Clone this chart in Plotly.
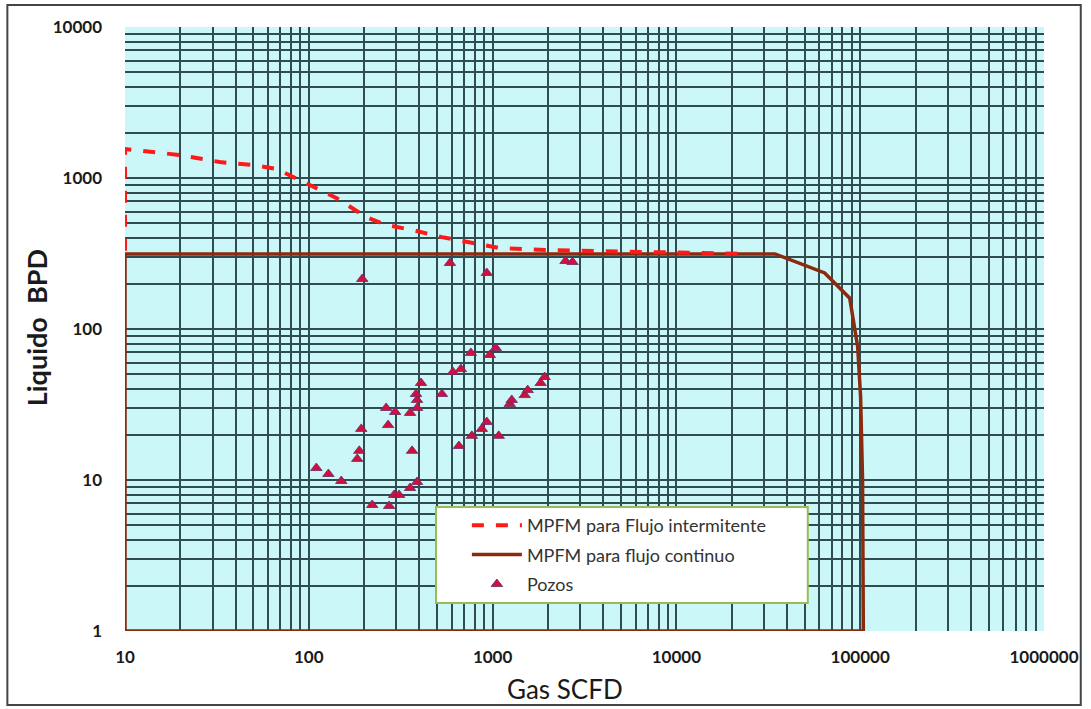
import plotly.graph_objects as go

# ---- data ----
x_tickvals = [10, 100, 1000, 10000, 100000, 1000000]
x_ticktext = ["10", "100", "1000", "10000", "100000", "1000000"]
y_tickvals = [1, 10, 100, 1000, 10000]
y_ticktext = ["1", "10", "100", "1000", "10000"]

intermit_gas = [10, 10, 19.9, 32.7, 49.4, 66.7, 88.9, 141, 205, 263, 364, 530,
                841, 1081, 2018, 3767, 8690, 19800, 24500]
intermit_liq = [330, 1556, 1419, 1276, 1219, 1148, 971, 738, 552, 489, 453, 406,
                365, 344, 333, 329, 319, 316, 314]

cont_gas = [10, 10, 34400, 64100, 87700, 92000, 96900, 100500, 103000, 104000, 10]
cont_liq = [1, 314, 314, 235, 160, 115, 76, 35.5, 10, 1, 1]

pozos_gas = [109.9, 127.8, 150.2, 192.9, 188.2, 183.5, 221.3, 273.6, 291.2, 309.9,
             355.6, 388.1, 364.6, 270.2, 263.5, 294.9, 355.6, 388.1, 388.1, 383.3,
             407.9, 530.2, 608.5, 672.4, 655.8, 771.3, 873.8, 930.0, 761.7, 965.6,
             1041, 1080, 1240, 1271, 1495, 1552, 1826, 1919, 195.3, 586.1,
             930.0, 2494, 2722]
pozos_liq = [12.0, 10.96, 9.85, 21.8, 15.6, 13.8, 6.83, 6.73, 7.96, 7.96,
             8.85, 9.70, 15.6, 23.1, 30.0, 28.2, 27.8, 30.0, 33.9, 37.1,
             43.9, 37.1, 51.9, 54.3, 16.8, 19.6, 21.8, 24.2, 69.4, 67.3,
             74.8, 19.6, 31.9, 33.9, 36.5, 39.4, 43.9, 48.1, 214.4, 273.6,
             234.9, 282.0, 277.7]

fig = go.Figure()

fig.add_trace(go.Scatter(
    x=cont_gas, y=cont_liq, mode="lines", name="MPFM para flujo continuo",
    line=dict(color="#8B2A0E", width=3.5), legendgroup="b", legendrank=2,
    cliponaxis=False))
fig.add_trace(go.Scatter(
    x=intermit_gas, y=intermit_liq, mode="lines", name="MPFM para Flujo intermitente",
    line=dict(color="#FF1A1A", width=4, dash="dash"),
    legendgroup="a", legendrank=1, cliponaxis=False))
fig.add_trace(go.Scatter(
    x=pozos_gas, y=pozos_liq, mode="markers", name="Pozos",
    marker=dict(symbol="triangle-up", size=10, color="#D0103A",
                line=dict(color="#6a2a6a", width=0.8)),
    legendgroup="c", legendrank=3))

grid_color = "#2f4d50"
tick_font = dict(family="Lato", size=17, color="#1a1a1a", weight="bold")
fig.update_xaxes(
    type="log", range=[1, 6], tickvals=x_tickvals, ticktext=x_ticktext,
    showgrid=True, gridcolor=grid_color, gridwidth=2,
    minor=dict(dtick="D1", showgrid=True, gridcolor=grid_color, gridwidth=2),
    zeroline=False, showline=False, ticks="", ticklabelstandoff=14,
    tickfont=tick_font,
)
fig.update_yaxes(
    type="log", range=[0, 4], tickvals=y_tickvals, ticktext=y_ticktext,
    showgrid=True, gridcolor=grid_color, gridwidth=2,
    minor=dict(dtick="D1", showgrid=True, gridcolor=grid_color, gridwidth=2),
    zeroline=False, showline=False, ticks="", ticklabelstandoff=22,
    tickfont=tick_font,
)

# axis titles
fig.add_annotation(text="Gas SCFD", xref="paper", yref="paper",
                   x=(566 - 125) / 922, y=(631 - 689) / 604,
                   xanchor="center", yanchor="middle", showarrow=False,
                   font=dict(family="Lato", size=26, color="#1a1a1a"))
fig.add_annotation(text="Liquido  BPD", xref="paper", yref="paper",
                   x=(36 - 125) / 922, y=(631 - 328) / 604, textangle=-90,
                   xanchor="center", yanchor="middle", showarrow=False,
                   font=dict(family="Lato", size=27, color="#1a1a1a", weight="bold"))

# outer frame and legend box
fig.add_shape(type="rect", xref="paper", yref="paper",
              x0=-0.128, x1=1.040, y0=-0.1225, y1=1.0364,
              line=dict(color="#444444", width=2), layer="below")
fig.add_shape(type="rect", xref="paper", yref="paper",
              x0=(437 - 125) / 922, x1=(810 - 125) / 922,
              y0=(631 - 603) / 604, y1=(631 - 507) / 604,
              fillcolor="white", line=dict(color="#9BBB59", width=2), layer="above")

fig.update_layout(
    width=1091, height=709,
    margin=dict(l=125, r=44, t=27, b=78),
    paper_bgcolor="white", plot_bgcolor="#CBF7F9",
    showlegend=True,
    legend=dict(
        x=(468 - 125) / 922, y=(631 - 507) / 604, xanchor="left", yanchor="top",
        bgcolor="rgba(0,0,0,0)", borderwidth=0, tracegroupgap=3,
        traceorder="grouped",
        font=dict(family="Lato", size=18, color="#333333"),
        itemwidth=50,
    ),
)

fig.write_html("out.html")
